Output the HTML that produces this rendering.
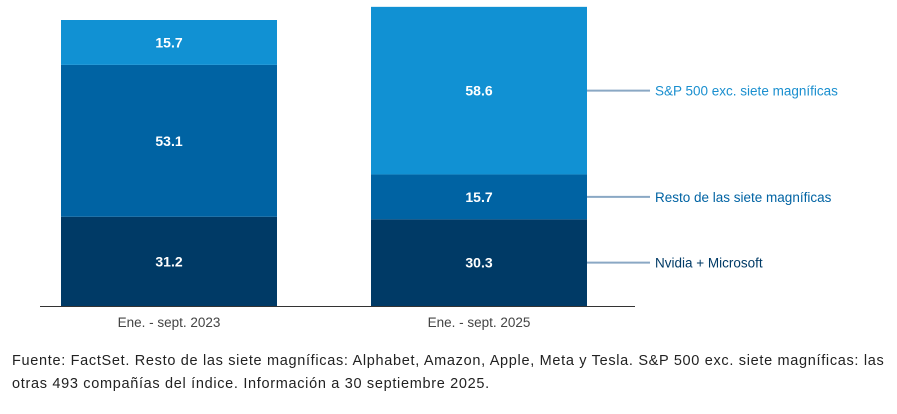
<!DOCTYPE html>
<html><head><meta charset="utf-8"><style>
body{margin:0;background:#fff;width:897px;height:414px;overflow:hidden;font-family:"Liberation Sans",sans-serif}
svg text{font-family:"Liberation Sans",sans-serif}
#note{position:absolute;left:12px;top:350px;width:885px;font-size:14.5px;letter-spacing:0.68px;line-height:23px;color:#222}
</style></head><body>
<svg id="chart" width="897" height="345" style="position:absolute;left:0;top:0"></svg>
<div id="note">Fuente: FactSet. Resto de las siete magníficas: Alphabet, Amazon, Apple, Meta y Tesla. S&amp;P 500 exc. siete magníficas: las otras 493 compañías del índice. Información a 30 septiembre 2025.</div>
<script>
const categories=["Ene. - sept. 2023","Ene. - sept. 2025"];
const seriesNames=["Nvidia + Microsoft","Resto de las siete magníficas","S&P 500 exc. siete magníficas"];
const nvidiaMsft=[31.2,30.3];
const restoSiete=[53.1,15.7];
const sp493=[15.7,58.6];
const colors=["#003a66","#0063a3","#1191d3"];
const legendColors=["#003a66","#0063a3","#1a8fcf"];
const series=[nvidiaMsft,restoSiete,sp493];
const NS="http://www.w3.org/2000/svg";
const svg=document.getElementById('chart');
const base=306,scale=2.86;
const y=v=>base-v*scale;
const barX=[61,371],barW=216;
function mk(t,a){const e=document.createElementNS(NS,t);for(const k in a)e.setAttribute(k,a[k]);svg.appendChild(e);return e;}
categories.forEach((c,i)=>{
  let cum=0;
  series.forEach((s,j)=>{
    const v=s[i];
    const r=mk('rect',{x:barX[i],y:y(cum+v),width:barW,height:v*scale,fill:colors[j]});
    
    
    const t=mk('text',{x:barX[i]+barW/2,y:y(cum+v/2)+5,'text-anchor':'middle',fill:'#fff','font-size':'14','font-weight':'bold'});
    t.textContent=v.toFixed(1);
    
    
    if(i===categories.length-1){
      const ly=y(cum+v/2);
      const l=mk('line',{x1:barX[i]+barW,x2:650,y1:ly,y2:ly,stroke:'#8aa8c4','stroke-width':2});
      
      
      const lt=mk('text',{x:655,y:ly+5,fill:legendColors[j],'font-size':'13.5'});
      lt.textContent=seriesNames[j];
      
      
    }
    cum+=v;
  });
  const xl=mk('text',{x:barX[i]+barW/2,y:327,'text-anchor':'middle',fill:'#444','font-size':'13.5'});
  xl.textContent=c;
  
  
});
const ax=mk('line',{x1:40,x2:635,y1:306.5,y2:306.5,stroke:'#333','stroke-width':1});


</script>
</body></html>
